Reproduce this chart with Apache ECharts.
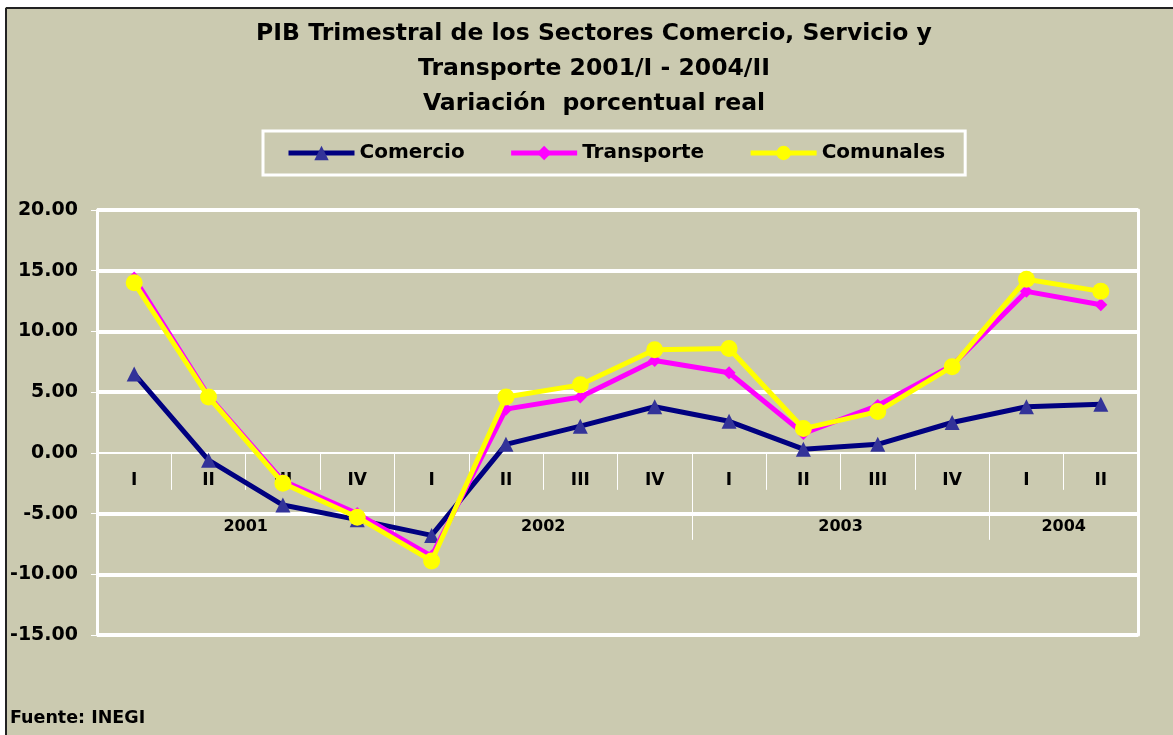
<!DOCTYPE html>
<html>
<head>
<meta charset="utf-8">
<script src="https://cdn.jsdelivr.net/npm/echarts@6/dist/echarts.min.js"></script>
<style>
  html, body { margin: 0; padding: 0; background: #fff; }
  #chart { width: 1173px; height: 735px; }
</style>
</head>
<body>
<div id="chart"></div>
<script>
// trimestres y años
var quarters = ['I', 'II', 'III', 'IV', 'I', 'II', 'III', 'IV', 'I', 'II', 'III', 'IV', 'I', 'II'];
var years = ['2001', '2002', '2003', '2004'];
var quartersPerYear = [4, 4, 4, 2];

// variación porcentual real
var comercio = [6.5, -0.6, -4.3, -5.5, -6.8, 0.7, 2.2, 3.8, 2.6, 0.3, 0.7, 2.5, 3.8, 4.0];
var transporte = [14.4, 4.7, -2.3, -5.0, -8.5, 3.6, 4.6, 7.6, 6.6, 1.6, 3.9, 7.2, 13.3, 12.2];
var comunales = [14.0, 4.6, -2.5, -5.3, -8.9, 4.6, 5.6, 8.5, 8.6, 2.0, 3.4, 7.1, 14.3, 13.3];

var yMin = -15, yMax = 20, yStep = 5;

var FONT = 'DejaVu Sans';
var BG = '#CBCAB0';

var gridTop = 210, gridBottom = 100, chartH = 735;
var gridH = chartH - gridTop - gridBottom;
// el eje de categorías va sobre el cero
var zeroOffset = -gridH * (0 - yMin) / (yMax - yMin);

// centros y separadores de los años sobre el eje de valores 0..n
var yearCenters = [], yearBounds = [], acc = 0;
quartersPerYear.forEach(function (n) {
  yearCenters.push(acc + n / 2);
  acc += n;
  if (acc < quarters.length) yearBounds.push(acc);
});

// líneas de cuadrícula sin el cero (el cero lo marca el eje)
var gridValues = [];
for (var v = yMin; v <= yMax; v += yStep) {
  if (v !== 0) gridValues.push(v);
}

var chart = echarts.init(document.getElementById('chart'));

var option = {
  backgroundColor: BG,
  animation: false,
  title: [{
    text: 'PIB Trimestral de los Sectores Comercio, Servicio y\nTransporte 2001/I - 2004/II\nVariación  porcentual real',
    left: 594,
    textAlign: 'center',
    top: 16,
    padding: 0,
    textStyle: {
      fontFamily: FONT,
      fontSize: 23.5,
      fontWeight: 'bold',
      color: '#000',
      lineHeight: 35
    }
  }, {
    text: 'Fuente: INEGI',
    left: 10,
    top: 709,
    padding: 0,
    textStyle: { fontFamily: FONT, fontSize: 17.5, fontWeight: 'bold', color: '#000' }
  }],
  legend: {
    left: 263,
    top: 131,
    padding: [12, 20, 12, 23],
    itemWidth: 66,
    itemHeight: 18,
    itemGap: 44,
    borderColor: '#fff',
    borderWidth: 3,
    lineStyle: { width: 5 },
    textStyle: { fontFamily: FONT, fontSize: 20, fontWeight: 'bold', color: '#000' },
    data: ['Comercio', 'Transporte', 'Comunales']
  },
  grid: {
    left: 97,
    right: 35,
    top: gridTop,
    bottom: gridBottom,
    containLabel: false,
    outerBoundsMode: 'none'
  },
  xAxis: [{
    type: 'category',
    data: quarters,
    boundaryGap: true,
    position: 'bottom',
    offset: zeroOffset,
    axisLine: { show: true, onZero: false, lineStyle: { color: '#fff', width: 2 } },
    axisTick: { show: true, interval: 0, length: 37, lineStyle: { color: '#fff', width: 1 } },
    axisLabel: {
      interval: 0,
      margin: 19,
      fontFamily: FONT,
      fontSize: 17,
      fontWeight: 'bold',
      color: '#000'
    },
    splitLine: { show: false }
  }, {
    type: 'value',
    min: 0,
    max: quarters.length,
    position: 'bottom',
    offset: zeroOffset,
    axisLine: { show: false, onZero: false },
    axisTick: { show: true, customValues: yearBounds, length: 87, lineStyle: { color: '#fff', width: 1 } },
    axisLabel: {
      customValues: yearCenters,
      margin: 66,
      fontFamily: FONT,
      fontSize: 16,
      fontWeight: 'bold',
      color: '#000',
      formatter: function (val) {
        var i = yearCenters.indexOf(val);
        return i >= 0 ? years[i] : '';
      }
    },
    splitLine: { show: false }
  }],
  yAxis: [{
    type: 'value',
    position: 'left',
    min: yMin,
    max: yMax,
    interval: yStep,
    axisLine: { show: true, lineStyle: { color: '#fff', width: 3 } },
    axisTick: { show: true, length: 6, lineStyle: { color: '#fff', width: 1 } },
    axisLabel: {
      margin: 19,
      fontFamily: FONT,
      fontSize: 19,
      fontWeight: 'bold',
      color: '#000',
      formatter: function (val) { return val.toFixed(2); }
    },
    splitLine: { show: false }
  }, {
    type: 'value',
    position: 'right',
    min: yMin,
    max: yMax,
    interval: yStep,
    axisLine: { show: true, lineStyle: { color: '#fff', width: 3 } },
    axisTick: { show: false, customValues: gridValues },
    axisLabel: { show: false },
    splitLine: { show: true, lineStyle: { color: '#fff', width: 4 } }
  }],
  graphic: [
    { type: 'rect', shape: { x: 0, y: 0, width: 1173, height: 7 }, style: { fill: '#fff' }, silent: true },
    { type: 'rect', shape: { x: 0, y: 0, width: 5, height: 735 }, style: { fill: '#fff' }, silent: true },
    { type: 'line', shape: { x1: 6, y1: 8, x2: 1173, y2: 8 }, style: { stroke: '#222', lineWidth: 2 }, silent: true },
    { type: 'line', shape: { x1: 6, y1: 8, x2: 6, y2: 735 }, style: { stroke: '#222', lineWidth: 2 }, silent: true }
  ],
  series: [{
    name: 'Comercio',
    type: 'line',
    data: comercio,
    symbol: 'triangle',
    symbolSize: 15,
    lineStyle: { color: '#000080', width: 5 },
    itemStyle: { color: '#333399', borderWidth: 0 },
    z: 3
  }, {
    name: 'Transporte',
    type: 'line',
    data: transporte,
    symbol: 'diamond',
    symbolSize: 13,
    lineStyle: { color: '#FF00FF', width: 5 },
    itemStyle: { color: '#FF00FF', borderWidth: 0 },
    z: 4
  }, {
    name: 'Comunales',
    type: 'line',
    data: comunales,
    symbol: 'circle',
    symbolSize: 17,
    lineStyle: { color: '#FFFF00', width: 5 },
    itemStyle: { color: '#FFFF00', borderWidth: 0 },
    z: 5
  }]
};

chart.setOption(option);
</script>
</body>
</html>
